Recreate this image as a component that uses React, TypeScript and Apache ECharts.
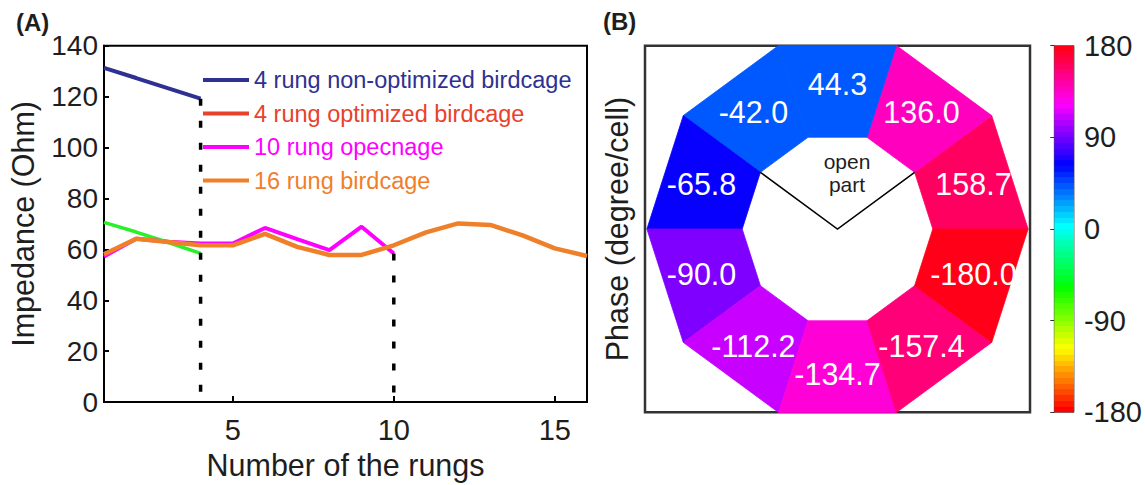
import React, { useEffect, useRef } from "react";
import * as echarts from "echarts";

// ---------- data ----------
const rungs = [1, 2, 3, 4, 5, 6, 7, 8, 9, 10, 11, 12, 13, 14, 15, 16];
const nonOptimized4 = [131.3, 127.3, 123.2, 119.2];
const optimized4 = [70.6, 66.8, 62.7, 58.4];
const opencage10 = [57.2, 64.2, 63.0, 62.3, 62.3, 68.4, 64.0, 59.7, 68.9, 58.4];
const birdcage16 = [58.1, 64.2, 62.9, 61.6, 61.6, 66.1, 61.0, 57.8, 57.8, 61.6, 66.7, 70.2, 69.6, 65.5, 60.4, 57.4];
const xTickValues = [5, 10, 15];
const legendNames = [
  "4 rung non-optimized birdcage",
  "4 rung optimized birdcage",
  "10 rung opecnage",
  "16 rung birdcage",
];
// phase per cell, counter-clockwise starting at the right (0 deg)
const cellPhases = [158.7, 136.0, 44.3, -42.0, -65.8, -90.0, -112.2, -134.7, -157.4, -180.0];
const colorbarRange = [-180, 180];

// ---------- styles ----------
const FONT = '"Liberation Sans", Arial, Helvetica, sans-serif';
const C_NAVY = "#2e3192";
const C_RED = "#e8412c";
const C_GREEN = "#2af02a";
const C_MAGENTA = "#ff00ff";
const C_ORANGE = "#f07f2a";
const TEXT = "#1e1e1e";
const OUTER = 1;
const INNER = 0.5;
const CELL_DEG = 36;

// MATLAB-like hsv(64) colormap over [-180, 180]
function hsv64(v: number): string {
  const idx = Math.max(0, Math.min(63, Math.floor(((v - colorbarRange[0]) / (colorbarRange[1] - colorbarRange[0])) * 64)));
  const h = (idx / 64) * 6;
  const i = Math.floor(h);
  const f = h - i;
  const q = 1 - f;
  let r = 0, g = 0, b = 0;
  switch (i % 6) {
    case 0: r = 1; g = f; b = 0; break;
    case 1: r = q; g = 1; b = 0; break;
    case 2: r = 0; g = 1; b = f; break;
    case 3: r = 0; g = q; b = 1; break;
    case 4: r = f; g = 0; b = 1; break;
    default: r = 1; g = 0; b = q; break;
  }
  const hex = (x: number) => Math.round(x * 255).toString(16).padStart(2, "0");
  return "#" + hex(r) + hex(g) + hex(b);
}

function buildOption(): any {
  const toPairs = (ys: number[]) => ys.map((y, i) => [rungs[i], y]);
  const rad = (d: number) => (d * Math.PI) / 180;

  const colorStops: any[] = [];
  for (let i = 0; i < 64; i++) {
    const v = colorbarRange[1] - ((i + 0.5) / 64) * (colorbarRange[1] - colorbarRange[0]);
    const c = hsv64(v);
    colorStops.push({ offset: i / 64, color: c });
    colorStops.push({ offset: (i + 1) / 64, color: c });
  }

  const legendColors = [C_NAVY, C_RED, C_MAGENTA, C_ORANGE];

  return {
    animation: false,
    backgroundColor: "#ffffff",
    title: [
      { text: "(A)", left: 16, top: 10, padding: 0, textStyle: { fontSize: 24, fontWeight: "bold", color: TEXT, fontFamily: FONT } },
      { text: "(B)", left: 603, top: 9, padding: 0, textStyle: { fontSize: 24, fontWeight: "bold", color: TEXT, fontFamily: FONT } },
    ],
    legend: {
      orient: "vertical",
      left: 198,
      top: 63,
      itemWidth: 46,
      itemHeight: 4,
      itemGap: 9.5,
      icon: "rect",
      selectedMode: false,
      textStyle: { fontSize: 23.5, fontFamily: FONT },
      data: legendNames.map((n, i) => ({
        name: n,
        itemStyle: { color: legendColors[i], borderWidth: 0 },
        textStyle: { color: legendColors[i], fontSize: 23.5, fontFamily: FONT },
      })),
    },
    grid: [
      { left: 104, top: 45.7, width: 483, height: 365, show: true, borderColor: "#000", borderWidth: 2, backgroundColor: "transparent" },
      { left: 645, top: 45.7, width: 385, height: 366.6, show: true, borderColor: "#333", borderWidth: 2.5, backgroundColor: "transparent" },
      { left: 1054.3, top: 45.7, width: 25.7, height: 366.6, show: true, borderColor: "#555", borderWidth: 1, backgroundColor: "transparent" },
    ],
    xAxis: [
      {
        gridIndex: 0,
        type: "value",
        min: rungs[0],
        max: rungs[rungs.length - 1],
        axisLine: { show: true, lineStyle: { color: "#000", width: 2 } },
        axisTick: { show: true, inside: true, length: 6, customValues: xTickValues, lineStyle: { color: "#000", width: 2 } },
        axisLabel: { show: true, customValues: xTickValues, fontSize: 29, color: TEXT, margin: 13, fontFamily: FONT },
        splitLine: { show: false },
        name: "Number of the rungs",
        nameLocation: "middle",
        nameGap: 40,
        nameTextStyle: { fontSize: 30.5, color: TEXT, fontFamily: FONT },
      },
      { gridIndex: 1, type: "value", min: -1.01, max: 1.01, show: false },
      { gridIndex: 2, type: "value", min: 0, max: 1, show: false },
    ],
    yAxis: [
      {
        gridIndex: 0,
        type: "value",
        min: 0,
        max: 140,
        interval: 20,
        axisLine: { show: true, lineStyle: { color: "#000", width: 2 } },
        axisTick: { show: true, inside: true, length: 5, lineStyle: { color: "#000", width: 2 } },
        axisLabel: { fontSize: 28, color: TEXT, margin: 6, fontFamily: FONT },
        splitLine: { show: false },
        name: "Impedance (Ohm)",
        nameLocation: "middle",
        nameGap: 66,
        nameTextStyle: { fontSize: 30.5, color: TEXT, fontFamily: FONT },
      },
      {
        gridIndex: 1,
        type: "value",
        min: -0.95,
        max: 0.95,
        axisLine: { show: false },
        axisTick: { show: false },
        axisLabel: { show: false },
        splitLine: { show: false },
        name: "Phase (degree/cell)",
        nameLocation: "middle",
        nameGap: 13,
        nameTextStyle: { fontSize: 30.5, color: TEXT, fontFamily: FONT },
      },
      {
        gridIndex: 2,
        type: "value",
        position: "right",
        min: colorbarRange[0],
        max: colorbarRange[1],
        interval: 90,
        axisLine: { show: true, lineStyle: { color: "#555", width: 1 } },
        axisTick: { show: true, inside: true, length: 4, lineStyle: { color: "#333", width: 1 } },
        axisLabel: { fontSize: 29, color: TEXT, margin: 10, fontFamily: FONT },
        splitLine: { show: false },
      },
    ],
    series: [
      {
        name: legendNames[0], type: "line", xAxisIndex: 0, yAxisIndex: 0,
        data: toPairs(nonOptimized4), showSymbol: false, symbol: "none",
        itemStyle: { color: C_NAVY }, lineStyle: { color: C_NAVY, width: 4 },
      },
      {
        name: legendNames[1], type: "line", xAxisIndex: 0, yAxisIndex: 0,
        data: toPairs(optimized4), showSymbol: false, symbol: "none",
        itemStyle: { color: C_RED }, lineStyle: { color: C_GREEN, width: 3.5 },
      },
      {
        name: legendNames[2], type: "line", xAxisIndex: 0, yAxisIndex: 0,
        data: toPairs(opencage10), showSymbol: false, symbol: "none",
        itemStyle: { color: C_MAGENTA }, lineStyle: { color: C_MAGENTA, width: 4 },
      },
      {
        name: legendNames[3], type: "line", xAxisIndex: 0, yAxisIndex: 0,
        data: toPairs(birdcage16), showSymbol: false, symbol: "none",
        itemStyle: { color: C_ORANGE }, lineStyle: { color: C_ORANGE, width: 4.5 },
      },
      {
        name: "end4", type: "line", xAxisIndex: 0, yAxisIndex: 0, silent: true,
        data: [[rungs[nonOptimized4.length - 1], nonOptimized4[nonOptimized4.length - 1]], [rungs[nonOptimized4.length - 1], 0]],
        showSymbol: false, symbol: "none",
        lineStyle: { color: "#000", width: 3.5, type: [7, 15], cap: "butt" }, z: 5,
      },
      {
        name: "end10", type: "line", xAxisIndex: 0, yAxisIndex: 0, silent: true,
        data: [[rungs[opencage10.length - 1], opencage10[opencage10.length - 1]], [rungs[opencage10.length - 1], 0]],
        showSymbol: false, symbol: "none",
        lineStyle: { color: "#000", width: 3.5, type: [7, 15], cap: "butt" }, z: 5,
      },
      {
        name: "cells", type: "custom", coordinateSystem: "cartesian2d", xAxisIndex: 1, yAxisIndex: 1, silent: true,
        data: cellPhases.map((p, k) => [k, p]),
        renderItem: (params: any, api: any) => {
          const k = api.value(0);
          const phase = api.value(1);
          const a0 = rad(k * CELL_DEG);
          const a1 = rad((k + 1) * CELL_DEG);
          const pt = (r: number, a: number) => api.coord([r * Math.cos(a), r * Math.sin(a)]);
          const color = hsv64(Math.abs(phase));
          const c = pt((OUTER + INNER) / 2, (a0 + a1) / 2);
          return {
            type: "group",
            children: [
              { type: "polygon", shape: { points: [pt(OUTER, a0), pt(OUTER, a1), pt(INNER, a1), pt(INNER, a0)] }, style: { fill: color, stroke: color, lineWidth: 0.8 } },
              { type: "text", z2: 10, x: c[0], y: c[1], style: { text: phase.toFixed(1), fill: "#ffffff", fontSize: 30.5, fontFamily: FONT, align: "center", verticalAlign: "middle" } },
            ],
          };
        },
      },
      {
        name: "openPart", type: "custom", coordinateSystem: "cartesian2d", xAxisIndex: 1, yAxisIndex: 1, silent: true,
        data: [[0, 0]],
        renderItem: (params: any, api: any) => {
          const pt = (r: number, d: number) => api.coord([r * Math.cos(rad(d)), r * Math.sin(rad(d))]);
          const t = api.coord([0.05, 0.29]);
          return {
            type: "group",
            children: [
              { type: "polyline", shape: { points: [pt(INNER, 4 * CELL_DEG), pt(0, 0), pt(INNER, CELL_DEG)] }, style: { stroke: "#000", lineWidth: 1.5, fill: "none" } },
              { type: "text", x: t[0], y: t[1], style: { text: "open\npart", fill: TEXT, fontSize: 21, lineHeight: 23, fontFamily: FONT, align: "center", verticalAlign: "middle" } },
            ],
          };
        },
      },
      {
        name: "colorbar", type: "custom", coordinateSystem: "cartesian2d", xAxisIndex: 2, yAxisIndex: 2, silent: true,
        data: [[0, colorbarRange[1]]],
        renderItem: (params: any, api: any) => {
          const p0 = api.coord([0, colorbarRange[1]]);
          const p1 = api.coord([1, colorbarRange[0]]);
          return {
            type: "rect",
            shape: { x: p0[0], y: p0[1], width: p1[0] - p0[0], height: p1[1] - p0[1] },
            style: { fill: new echarts.graphic.LinearGradient(0, 0, 0, 1, colorStops) },
          };
        },
      },
    ],
  };
}

export default function App() {
  const ref = useRef<HTMLDivElement>(null);
  useEffect(() => {
    if (!ref.current) return;
    const chart = echarts.init(ref.current, null, { renderer: "svg" });
    chart.setOption(buildOption());
    return () => chart.dispose();
  }, []);
  return (
    <div
      ref={ref}
      style={{ position: "absolute", left: 0, top: 0, width: 1145, height: 485, background: "#ffffff" }}
    />
  );
}
